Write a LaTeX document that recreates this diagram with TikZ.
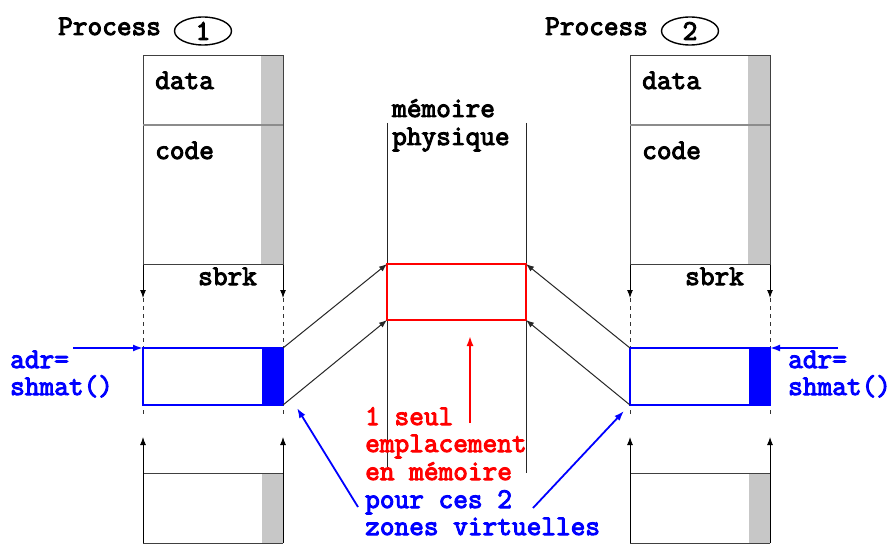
\documentclass[tikz,border=0pt]{standalone}
\usepackage{fontspec}
\newfontfamily\cour[FakeBold=3.5]{Latin Modern Mono}
\usetikzlibrary{arrows.meta,shapes.geometric}

\begin{document}
\begin{tikzpicture}[x=1pt,y=-1pt,
  txt/.style={font=\cour\fontsize{28.5}{28}\selectfont,inner sep=0pt,anchor=base west},
  num/.style={ellipse,draw,line width=1.4pt,minimum width=57pt,minimum height=28pt,inner sep=0pt,
    font=\cour\fontsize{28.5}{28}\selectfont},
  edge/.style={draw=black!75,line width=1pt},
  divider/.style={draw=black!45,line width=2pt},
  strip/.style={fill=black!22},
  tip/.style={-{Latex[length=8pt,width=6pt]}},
  dashline/.style={draw=black!80,line width=1pt,dash pattern=on 4pt off 4pt},
  shm/.style={draw=blue,line width=2pt},
  link/.style={draw=black!85,line width=1pt,tip},
  memline/.style={draw=black!85,line width=1pt},
  bluearrow/.style={draw=blue,line width=1.8pt,-{Latex[length=10pt,width=7pt]}},
  redarrow/.style={draw=red,line width=1.8pt,-{Latex[length=10pt,width=7pt]}}]
\useasboundingbox (0,0) rectangle (891,545);
\fill[white] (0,0) rectangle (891,545);

% the two process address spaces, drawn from the same template
\foreach \dx/\pfx/\n in {0/p-/1, 487/q-/2}{
\begin{scope}[xshift=\dx pt, name prefix=\pfx]
  \node[txt] (proc) at (58,35) {Process};
  \node[num] (num) at (203,31) {\n};
  % data and code segments
  \fill[strip] (261,56) rectangle (283,265);
  \draw[edge] (143,56) rectangle (283,265);
  \draw[divider] (143,125) -- (283,125);
  \node[txt] (data) at (155,89) {data};
  \node[txt] (code) at (155,159) {code};
  \node[txt] (sbrk) at (198,285) {sbrk};
  % growth of the heap towards the shared zone
  \coordinate (hl0) at (143,265); \coordinate (hl1) at (143,298);
  \coordinate (hr0) at (283,265); \coordinate (hr1) at (283,298);
  \coordinate (hl2) at (143,414); \coordinate (hr2) at (283,414);
  \draw[edge,draw=black,tip] (hl0) -- (hl1);
  \draw[edge,draw=black,tip] (hr0) -- (hr1);
  \draw[dashline] (hl1) -- (hl2);
  \draw[dashline] (hr1) -- (hr2);
  % attached shared memory segment
  \coordinate (shm-tl) at (143,348); \coordinate (shm-tr) at (283,348);
  \coordinate (shm-bl) at (143,405); \coordinate (shm-br) at (283,405);
  \fill[white] (shm-tl) rectangle (shm-br);
  \fill[blue] (262,348) rectangle (shm-br);
  \draw[shm] (shm-tl) rectangle (shm-br);
  % stack growing upwards
  \coordinate (sl0) at (143,543); \coordinate (sl1) at (143,437);
  \coordinate (sr0) at (283,543); \coordinate (sr1) at (283,437);
  \fill[strip] (262,473) rectangle (283,543);
  \draw[edge] (143,473) -- (283,473);
  \draw[edge] (143,543) -- (283,543);
  \draw[edge,draw=black,tip] (sl0) -- (sl1);
  \draw[edge,draw=black,tip] (sr0) -- (sr1);
\end{scope}}

% physical memory
\node[txt] (mem1) at (392,117) {mémoire};
\node[txt] (mem2) at (392,145) {physique};
\coordinate (ml0) at (387,123); \coordinate (ml1) at (387,467);
\coordinate (mr0) at (526,123); \coordinate (mr1) at (526,473);
\draw[memline] (ml0) -- (ml1);
\draw[memline] (mr0) -- (mr1);
\coordinate (mem-tl) at (387,264); \coordinate (mem-br) at (526,320);
\coordinate (mem-bl) at (387,320); \coordinate (mem-tr) at (526,264);
\fill[white] (mem-tl) rectangle (mem-br);
\draw[draw=red,line width=1.6pt] (mem-tl) rectangle (mem-br);

% mappings of both virtual zones onto the same frame
\draw[link] (p-shm-tr) -- (mem-tl);
\draw[link] (p-shm-br) -- (mem-bl);
\draw[link] (q-shm-tl) -- (mem-tr);
\draw[link] (q-shm-bl) -- (mem-br);

% shmat() return values
\node[txt,text=blue] (adr1) at (10,368) {adr=};
\node[txt,text=blue] (shmat1) at (10,395) {shmat()};
\node[txt,text=blue] (adr2) at (788,368) {adr=};
\node[txt,text=blue] (shmat2) at (788,395) {shmat()};
\coordinate (a1) at (73,348); \coordinate (a2) at (838,348);
\draw[bluearrow] (a1) -- (p-shm-tl);
\draw[bluearrow] (a2) -- (q-shm-tr);

% explanation
\node[txt,text=red] (t1) at (365,425) {1 seul};
\node[txt,text=red] (t2) at (365,452) {emplacement};
\node[txt,text=red] (t3) at (365,480) {en mémoire};
\node[txt,text=blue] (t4) at (365,508) {pour ces 2};
\node[txt,text=blue] (t5) at (365,535) {zones virtuelles};
\coordinate (rt) at (470,423); \coordinate (rh) at (470,336);
\draw[redarrow] (rt) -- (rh);
\coordinate (b1) at (358,507); \coordinate (b1h) at (297,408);
\coordinate (b2) at (533,508); \coordinate (b2h) at (624,411);
\draw[bluearrow] (b1) -- (b1h);
\draw[bluearrow] (b2) -- (b2h);
\end{tikzpicture}
\end{document}
